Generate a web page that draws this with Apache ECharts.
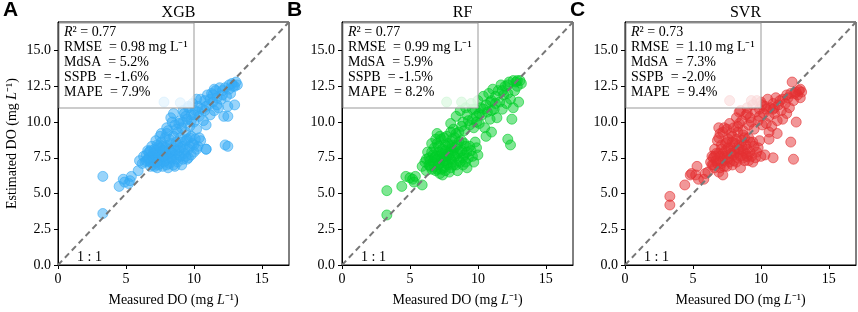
<!DOCTYPE html>
<html>
<head>
<meta charset="utf-8">
<script src="https://cdn.jsdelivr.net/npm/echarts@6/dist/echarts.min.js"></script>
<style>
  html, body { margin: 0; padding: 0; background: #fff; }
  #chart { width: 858px; height: 312px; }
</style>
</head>
<body>
<div id="chart"></div>
<script>
// model names / panel letters
const modelNames = ["XGB", "RF", "SVR"];
const panelLetters = ["A", "B", "C"];
// metrics shown in the boxes
const r2Values = ["0.77", "0.77", "0.73"];
const rmseValues = ["0.98", "0.99", "1.10"];
const mdsaValues = ["5.2%", "5.9%", "7.3%"];
const sspbValues = ["-1.6%", "-1.5%", "-2.0%"];
const mapeValues = ["7.9%", "8.2%", "9.4%"];
// axis ticks
const xTicks = [0, 5, 10, 15];
const yTicks = [0, 2.5, 5, 7.5, 10, 12.5, 15];
const axisMax = 17;
const oneToOne = [[0, 0], [17, 17]];

// [measured, estimated]
const xgbPoints = [
  [3.3,3.6],[3.3,6.2],[4.5,5.5],[4.8,6.0],[4.9,5.8],[5.2,5.7],[5.3,5.9],[5.4,6.2],[5.9,6.6],[6.0,7.3],[6.2,7.1],[6.3,7.6],
  [6.5,7.7],[6.6,7.4],[6.7,7.9],[6.8,7.2],[6.9,7.6],[7.0,7.0],[7.0,7.8],[7.1,8.1],[7.2,7.4],[7.3,6.8],[7.3,7.7],[7.4,8.3],
  [7.5,7.1],[7.5,7.9],[7.6,8.6],[7.7,7.5],[7.7,6.9],[7.8,8.0],[7.9,7.3],[8.0,8.4],[8.0,7.7],[8.1,6.8],[8.2,7.1],[8.2,8.8],
  [8.3,7.9],[8.4,7.4],[8.5,8.2],[8.6,6.9],[8.6,7.7],[8.7,8.6],[8.8,7.2],[8.9,8.0],[9.0,7.6],[9.0,8.9],[9.1,7.0],[9.2,8.3],
  [9.3,7.8],[9.4,8.7],[9.5,7.4],[9.6,8.1],[9.7,8.9],[9.8,7.7],[9.9,8.5],[10.0,7.9],[10.1,8.8],[10.3,8.3],[10.5,8.7],[10.9,8.1],
  [6.9,8.3],[7.2,8.7],[7.6,9.2],[7.9,8.9],[8.1,9.4],[6.6,8.0],[7.1,7.2],[7.4,7.5],[7.8,7.2],[8.3,7.5],[7.0,7.5],[7.7,8.3],
  [6.4,7.2],[6.7,7.5],[6.8,6.9],[7.0,7.3],[7.1,6.9],[7.2,8.0],[7.3,7.2],[7.4,7.0],[7.5,8.2],[7.6,7.7],[7.7,8.0],[7.8,7.6],
  [7.9,8.2],[8.0,7.0],[8.1,7.5],[8.2,8.1],[8.3,8.5],[8.4,7.8],[8.5,7.0],[8.6,8.0],[8.7,7.4],[8.8,8.4],[8.9,7.7],[9.0,8.2],
  [9.1,8.6],[9.2,7.4],[9.3,8.1],[9.4,7.6],[9.5,8.8],[9.6,7.5],[9.7,8.3],[9.8,9.0],[10.0,8.4],[10.2,8.1],[10.4,8.9],[7.5,9.0],
  [8.0,9.2],[8.5,9.0],[8.7,9.5],[7.3,8.4],[6.8,8.0],[6.5,7.3],
  [8.0,9.6],[8.3,10.3],[8.5,10.6],[8.6,9.8],[8.8,9.3],[9.0,10.1],[9.1,9.6],[9.2,10.8],[9.3,10.6],[9.4,9.3],[9.5,10.2],[9.6,11.0],
  [9.7,9.7],[9.8,10.5],[9.9,11.3],[10.0,10.0],[10.1,10.8],[10.2,9.5],[10.3,11.1],[10.4,10.4],[10.5,11.6],[10.6,10.9],[10.7,10.1],[10.8,11.5],
  [10.9,9.8],[11.0,11.9],[11.1,11.2],[11.2,10.5],[11.3,12.0],[11.4,11.4],[11.5,10.8],[11.6,12.2],[11.7,11.7],[11.8,11.0],[11.9,12.4],[12.0,11.6],
  [12.1,12.2],[12.2,10.4],[12.3,12.4],[12.4,11.8],[12.5,11.1],[12.6,12.6],[12.7,12.0],[12.8,12.7],[12.9,12.5],[13.0,11.2],[13.1,12.8],[13.2,12.6],
  [12.5,10.4],[12.3,8.4],[12.5,8.3],[10.9,8.1],[7.8,11.4],[9.0,11.35],[9.6,11.1],[8.4,10.0],[10.2,11.6],[11.5,12.3],
  [9.2,10.0],[9.8,10.1],[10.3,10.7],[10.8,10.8],[11.2,11.6],[11.7,11.2],[12.1,11.9],[12.6,12.3],[13.0,12.5],[10.0,10.5],
  [10.9,11.1],[11.4,11.9],[8.9,9.9],[9.4,10.4]
];
const rfPoints = [
  [3.3,3.5],[3.3,5.2],[4.4,5.5],[4.7,6.2],[5.0,6.1],[5.2,6.0],[5.3,5.8],[5.4,6.2],[5.9,5.6],[5.9,6.9],[6.1,7.2],[6.2,6.6],
  [6.4,7.5],[6.5,6.9],[6.6,7.9],[6.7,7.2],[6.8,8.2],[6.9,6.6],[6.9,7.6],[7.0,8.5],[7.1,7.0],[7.1,7.9],[7.2,6.4],[7.3,7.4],
  [7.3,8.8],[7.4,8.1],[7.5,6.8],[7.5,7.7],[7.6,8.4],[7.7,7.1],[7.7,9.0],[7.8,7.8],[7.9,6.5],[7.9,8.3],[8.0,7.4],[8.1,8.8],
  [8.2,7.0],[8.2,8.0],[8.3,7.6],[8.4,9.2],[8.5,6.6],[8.5,8.4],[8.6,7.3],[8.7,7.9],[8.8,8.7],[8.9,7.0],[9.0,7.7],[9.1,8.3],
  [9.2,6.8],[9.3,7.5],[9.5,8.0],[9.7,7.2],[9.8,8.6],[10.0,7.7],[6.6,8.5],[7.0,9.2],[6.8,7.5],[7.2,7.6],[7.6,7.3],[8.0,8.1],
  [6.3,7.9],[7.4,6.3],
  [6.5,7.3],[6.6,6.7],[6.7,7.7],[6.8,6.9],[7.0,7.4],[7.0,6.7],[7.1,8.3],[7.2,7.1],[7.3,6.7],[7.4,7.8],[7.5,7.3],[7.6,8.0],
  [7.6,6.6],[7.7,7.6],[7.8,8.5],[7.8,7.0],[7.9,7.7],[8.0,6.8],[8.1,7.2],[8.1,8.4],[8.2,7.7],[8.3,8.2],[8.4,7.0],[8.5,7.8],
  [8.6,8.6],[8.7,7.2],[8.8,8.0],[8.9,7.5],[9.0,8.5],[9.1,7.2],[9.2,7.9],[9.4,8.3],[9.6,7.6],[9.9,8.2],[6.9,8.8],[7.2,9.0],
  [7.5,8.9],[8.0,9.3],[8.3,8.9],[6.4,7.0],[6.2,7.4],
  [8.0,9.9],[8.2,9.5],[8.4,10.4],[8.6,9.3],[8.7,10.8],[8.9,10.0],[9.0,9.4],[9.1,11.0],[9.2,10.5],[9.4,9.8],[9.5,11.3],[9.6,10.2],
  [9.7,9.6],[9.8,10.9],[9.9,10.4],[10.0,11.5],[10.1,9.9],[10.2,11.0],[10.3,10.5],[10.4,11.8],[10.5,9.6],[10.6,11.2],[10.7,10.7],[10.8,12.0],
  [10.9,10.2],[11.0,11.5],[11.1,12.3],[11.2,10.9],[11.3,11.8],[11.4,10.3],[11.5,12.2],[11.6,11.4],[11.7,12.6],[11.8,10.9],[11.9,11.9],[12.0,12.5],
  [12.1,11.3],[12.2,12.0],[12.3,12.8],[12.4,11.6],[12.5,10.2],[12.6,12.9],[12.7,12.2],[12.8,12.8],[12.9,12.5],[13.0,11.4],[13.1,12.9],[13.2,12.7],
  [12.6,11.0],[12.2,8.8],[12.4,8.4],[7.7,11.4],[8.8,11.4],[10.6,9.0],[11.0,9.3],
  [9.3,10.1],[9.9,10.0],[10.4,10.9],[10.9,11.4],[11.3,11.3],[11.8,12.2],[12.2,12.6],[12.9,12.9],[10.1,10.6],[11.0,10.8],
  [8.8,9.7],[9.6,10.9]
];
const svrPoints = [
  [3.3,4.8],[3.3,4.2],[4.4,5.6],[4.8,6.3],[4.9,6.4],[5.2,6.3],[5.3,6.9],[5.4,6.0],[5.8,6.0],[5.9,6.4],[6.1,6.5],[6.3,7.2],
  [6.4,7.6],[6.5,7.0],[6.6,8.1],[6.7,7.3],[6.8,8.7],[6.9,6.5],[6.9,7.8],[7.0,9.2],[7.1,7.1],[7.1,8.4],[7.2,6.3],[7.3,7.6],
  [7.3,9.6],[7.4,8.0],[7.5,6.9],[7.5,8.6],[7.6,7.4],[7.7,9.9],[7.8,8.2],[7.9,7.0],[7.9,9.0],[8.0,7.7],[8.1,8.5],[8.2,7.2],
  [8.3,9.3],[8.4,7.9],[8.5,6.8],[8.6,8.3],[8.7,7.5],[8.8,8.9],[8.9,7.8],[9.0,8.1],[9.1,7.3],[9.2,8.6],[9.3,7.6],[9.4,7.2],
  [9.5,8.3],[9.7,7.9],[9.9,8.7],[10.0,7.6],[10.3,7.7],[10.6,8.8],[10.9,7.5],[12.4,7.4],[6.6,7.6],[7.2,7.8],[7.6,8.8],[8.0,8.0],
  [6.9,9.6],[8.4,8.4],
  [6.5,7.5],[6.6,6.8],[6.7,7.8],[6.8,7.1],[7.0,7.6],[7.0,6.8],[7.1,8.1],[7.2,7.3],[7.3,6.9],[7.4,8.5],[7.5,7.5],[7.6,8.2],
  [7.7,7.2],[7.8,7.8],[7.8,9.2],[7.9,8.6],[8.0,7.3],[8.1,7.9],[8.2,8.8],[8.3,7.5],[8.4,8.1],[8.5,7.6],[8.6,8.7],[8.7,8.0],
  [8.8,7.3],[8.9,8.4],[9.0,7.6],[9.1,8.9],[9.2,7.9],[9.4,8.6],[9.6,7.5],[9.8,8.2],[6.9,8.9],[7.2,9.3],[7.5,9.5],[6.4,7.0],
  [8.3,9.7],[8.7,9.1],
  [8.0,9.6],[8.2,10.3],[8.4,9.9],[8.5,10.8],[8.7,9.4],[8.9,10.5],[9.0,11.0],[9.1,9.8],[9.2,10.3],[9.4,11.2],[9.5,9.5],[9.6,10.7],
  [9.7,11.5],[9.8,10.1],[9.9,10.9],[10.0,11.4],[10.1,9.8],[10.2,10.6],[10.3,11.1],[10.4,9.9],[10.5,11.6],[10.6,10.4],[10.7,11.0],[10.8,9.7],
  [10.9,11.3],[11.0,10.6],[11.1,11.7],[11.2,10.1],[11.2,9.2],[11.3,11.2],[11.5,10.8],[11.6,11.6],[11.8,11.3],[11.9,10.6],[12.0,11.7],[12.1,11.0],
  [12.2,12.0],[12.3,12.8],[12.4,11.5],[12.6,12.1],[12.7,11.9],[12.8,12.2],[12.9,11.7],[13.0,12.1],[12.6,10.0],[12.2,8.6],[7.7,11.5],[9.3,11.5],
  [10.6,9.3],[11.6,10.2],[8.4,10.7],[9.0,10.6],
  [9.3,10.0],[9.9,10.4],[10.4,10.9],[10.9,10.9],[11.4,11.5],[11.9,11.9],[12.5,12.0],[12.9,12.3],[10.1,11.2],[11.0,11.0],[8.6,10.1]
];
const panelPoints = [xgbPoints, rfPoints, svrPoints];
const pointColors = ["51,170,245", "0,205,40", "228,48,50"];

const serif = "Liberation Serif";
const gridLefts = [58, 342, 625];
const gridTop = 22, gridW = 231, gridH = 244;

let mychart = echarts.init(document.getElementById("chart"));

let grids = [], xAxes = [], yAxes = [], series = [], titles = [], graphics = [];
const labelStyle = { color: "#000", fontFamily: serif, fontSize: 14, margin: 7 };

modelNames.forEach((name, i) => {
  grids.push({
    left: gridLefts[i], top: gridTop, width: gridW, height: gridH,
    show: true, borderColor: "#000", borderWidth: 1, backgroundColor: "transparent",
  });
  xAxes.push({
    gridIndex: i, type: "value", min: 0, max: axisMax,
    axisLine: { show: true, onZero: false, lineStyle: { color: "#000", width: 1 } },
    axisTick: { show: true, length: 4, customValues: xTicks, lineStyle: { color: "#000" } },
    axisLabel: Object.assign({ customValues: xTicks }, labelStyle),
    splitLine: { show: false },
    name: "Measured DO (mg {i|L}⁻¹)",
    nameLocation: "middle", nameGap: 28,
    nameTextStyle: {
      color: "#000", fontFamily: serif, fontSize: 14,
      rich: { i: { fontStyle: "italic", fontFamily: serif, fontSize: 14, color: "#000" } },
    },
  });
  yAxes.push({
    gridIndex: i, type: "value", min: 0, max: axisMax,
    axisLine: { show: true, onZero: false, lineStyle: { color: "#000", width: 1 } },
    axisTick: { show: true, length: 4, customValues: yTicks, lineStyle: { color: "#000" } },
    axisLabel: Object.assign({ customValues: yTicks, formatter: (v) => v.toFixed(1) }, labelStyle),
    splitLine: { show: false },
    name: i === 0 ? "Estimated DO (mg {i|L}⁻¹)" : "",
    nameLocation: "middle", nameGap: 39,
    nameTextStyle: {
      color: "#000", fontFamily: serif, fontSize: 14,
      rich: { i: { fontStyle: "italic", fontFamily: serif, fontSize: 14, color: "#000" } },
    },
  });
  const c = pointColors[i];
  series.push({
    type: "scatter", xAxisIndex: i, yAxisIndex: i, z: 2,
    symbolSize: 10,
    itemStyle: { color: `rgba(${c},0.5)`, borderColor: `rgba(${c},0.6)`, borderWidth: 1, opacity: 1 },
    data: panelPoints[i],
  });
  series.push({
    type: "line", xAxisIndex: i, yAxisIndex: i, z: 3,
    showSymbol: false, silent: true,
    lineStyle: { color: "#777", width: 2, type: [6, 4] },
    data: oneToOne,
  });
  titles.push({
    text: name, left: gridLefts[i] + gridW / 2, top: 0, textAlign: "center",
    textStyle: { color: "#000", fontFamily: serif, fontSize: 16, fontWeight: "normal" },
  });
  // panel letter
  graphics.push({
    type: "text", left: gridLefts[i] - 55, top: 0, z: 100,
    style: { text: panelLetters[i], fill: "#000", font: "bold 21px 'Liberation Sans'" },
  });
  // metrics box
  graphics.push({
    type: "rect", left: gridLefts[i] + 0.5, top: gridTop + 0.5, z: 100,
    shape: { width: 135, height: 85 },
    style: { fill: "rgba(255,255,255,0.8)", stroke: "#999", lineWidth: 1 },
  });
  graphics.push({
    type: "text", left: gridLefts[i] + 6, top: gridTop + 3, z: 101,
    style: {
      text: `{i|R}² = ${r2Values[i]}\nRMSE  = ${rmseValues[i]} mg L⁻¹\nMdSA  = ${mdsaValues[i]}\nSSPB  = ${sspbValues[i]}\nMAPE  = ${mapeValues[i]}`,
      font: `14px '${serif}'`, fill: "#000", lineHeight: 15,
      rich: { i: { fontStyle: "italic", fontFamily: serif, fontSize: 14, fill: "#000", lineHeight: 15 } },
    },
  });
  graphics.push({
    type: "text", left: gridLefts[i] + 19, top: gridTop + gridH - 16, z: 100,
    style: { text: "1 : 1", font: `14px '${serif}'`, fill: "#000" },
  });
});

let option = {
  animation: false,
  backgroundColor: "#fff",
  title: titles,
  grid: grids,
  xAxis: xAxes,
  yAxis: yAxes,
  series: series,
  graphic: graphics,
};
mychart.setOption(option);
</script>
</body>
</html>
